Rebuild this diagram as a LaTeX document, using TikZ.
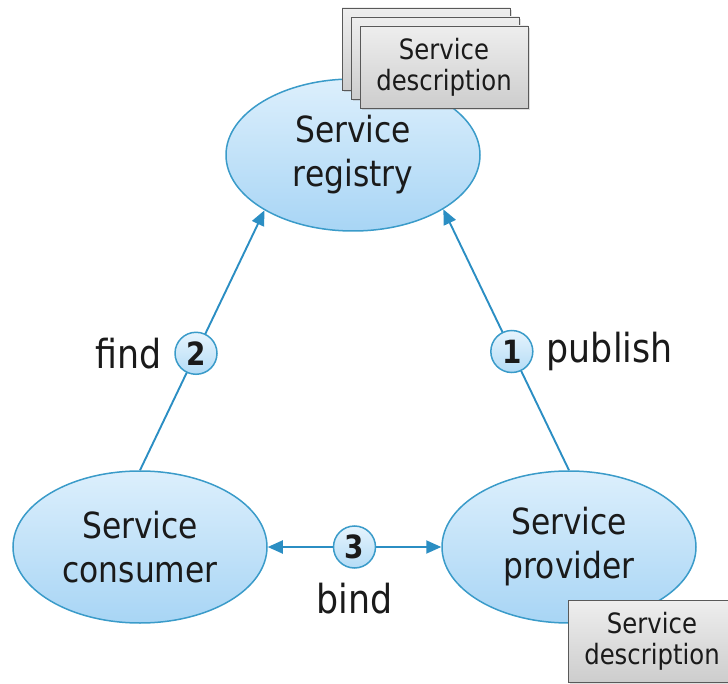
\documentclass[tikz,border=0pt]{standalone}
\usepackage{fontspec}
\setmainfont{DejaVu Sans}[FakeStretch=0.87]
\usetikzlibrary{positioning,shapes.geometric,arrows.meta,shadows}
\definecolor{svcline}{HTML}{3A9BC9}
\definecolor{svctop}{HTML}{DCEFFC}
\definecolor{svcbot}{HTML}{A8D5F5}
\definecolor{linkblue}{HTML}{2B8EC3}
\definecolor{numtop}{HTML}{E6F4FD}
\definecolor{numbot}{HTML}{B4DCF6}
\definecolor{cardtop}{HTML}{EEEEEE}
\definecolor{cardbot}{HTML}{CDCDCD}
\definecolor{ink}{HTML}{1A1A1A}

\begin{document}
\begin{tikzpicture}[x=1pt,y=-1pt,
  every node/.style={text=ink},
  svc/.style={ellipse, draw=svcline, line width=1.5pt, top color=svctop, bottom color=svcbot,
    minimum width=254pt, minimum height=152pt, align=center, font=\fontsize{36}{44}\selectfont},
  numbox/.style={circle, draw=svcline, line width=1.5pt, top color=numtop, bottom color=numbot,
    minimum size=42pt, inner sep=0pt, font=\fontsize{32}{32}\selectfont\bfseries},
  card/.style={rectangle, draw=black!65, line width=0.8pt, top color=cardtop, bottom color=cardbot,
    minimum width=168pt, minimum height=82pt, align=center, font=\fontsize{28}{31}\selectfont,
    drop shadow={opacity=0.25, shadow xshift=2pt, shadow yshift=-2pt}},
  lbl/.style={inner sep=0pt, font=\fontsize{40}{40}\selectfont},
  link/.style={draw=linkblue, line width=1.9pt},
  tip/.style={-{Triangle[length=15pt,width=13pt]}}]
\useasboundingbox (0,0) rectangle (728,684);
\coordinate (R) at (353,155);
\coordinate (C) at (140,547);
\coordinate (P) at (569,547);

% the three roles
\node[svc] (reg) at (R) {Service\\registry};
\node[svc] (cons) at (C) {Service\\consumer};
\node[svc] (prov) at (P) {Service\\provider};

% stacked descriptions in the registry
\node[card] (d3) at (426,49) {};
\node[card] (d2) at (435,58) {};
\node[card] (d1) at (444,67) {Service\\description};

% description held by the provider
\node[card] (dp) at (652,641) {Service\\description};

% find / publish / bind
\draw[link, tip] (cons.north) -- node[numbox, pos=0.45] (n2) {2} (reg.212);
\draw[link, tip] (prov.north) -- node[numbox, pos=0.455] (n1) {1} (reg.329);
\draw[link, {Triangle[length=15pt,width=13pt]}-{Triangle[length=15pt,width=13pt]}] (cons.east) -- node[numbox] (n3) {3} (prov.west);

\node[lbl, left=12pt of n2] (find) {find};
\node[lbl, right=13pt of n1] (publish) {publish};
\node[lbl, below=14pt of n3] (bind) {bind};
\end{tikzpicture}
\end{document}
